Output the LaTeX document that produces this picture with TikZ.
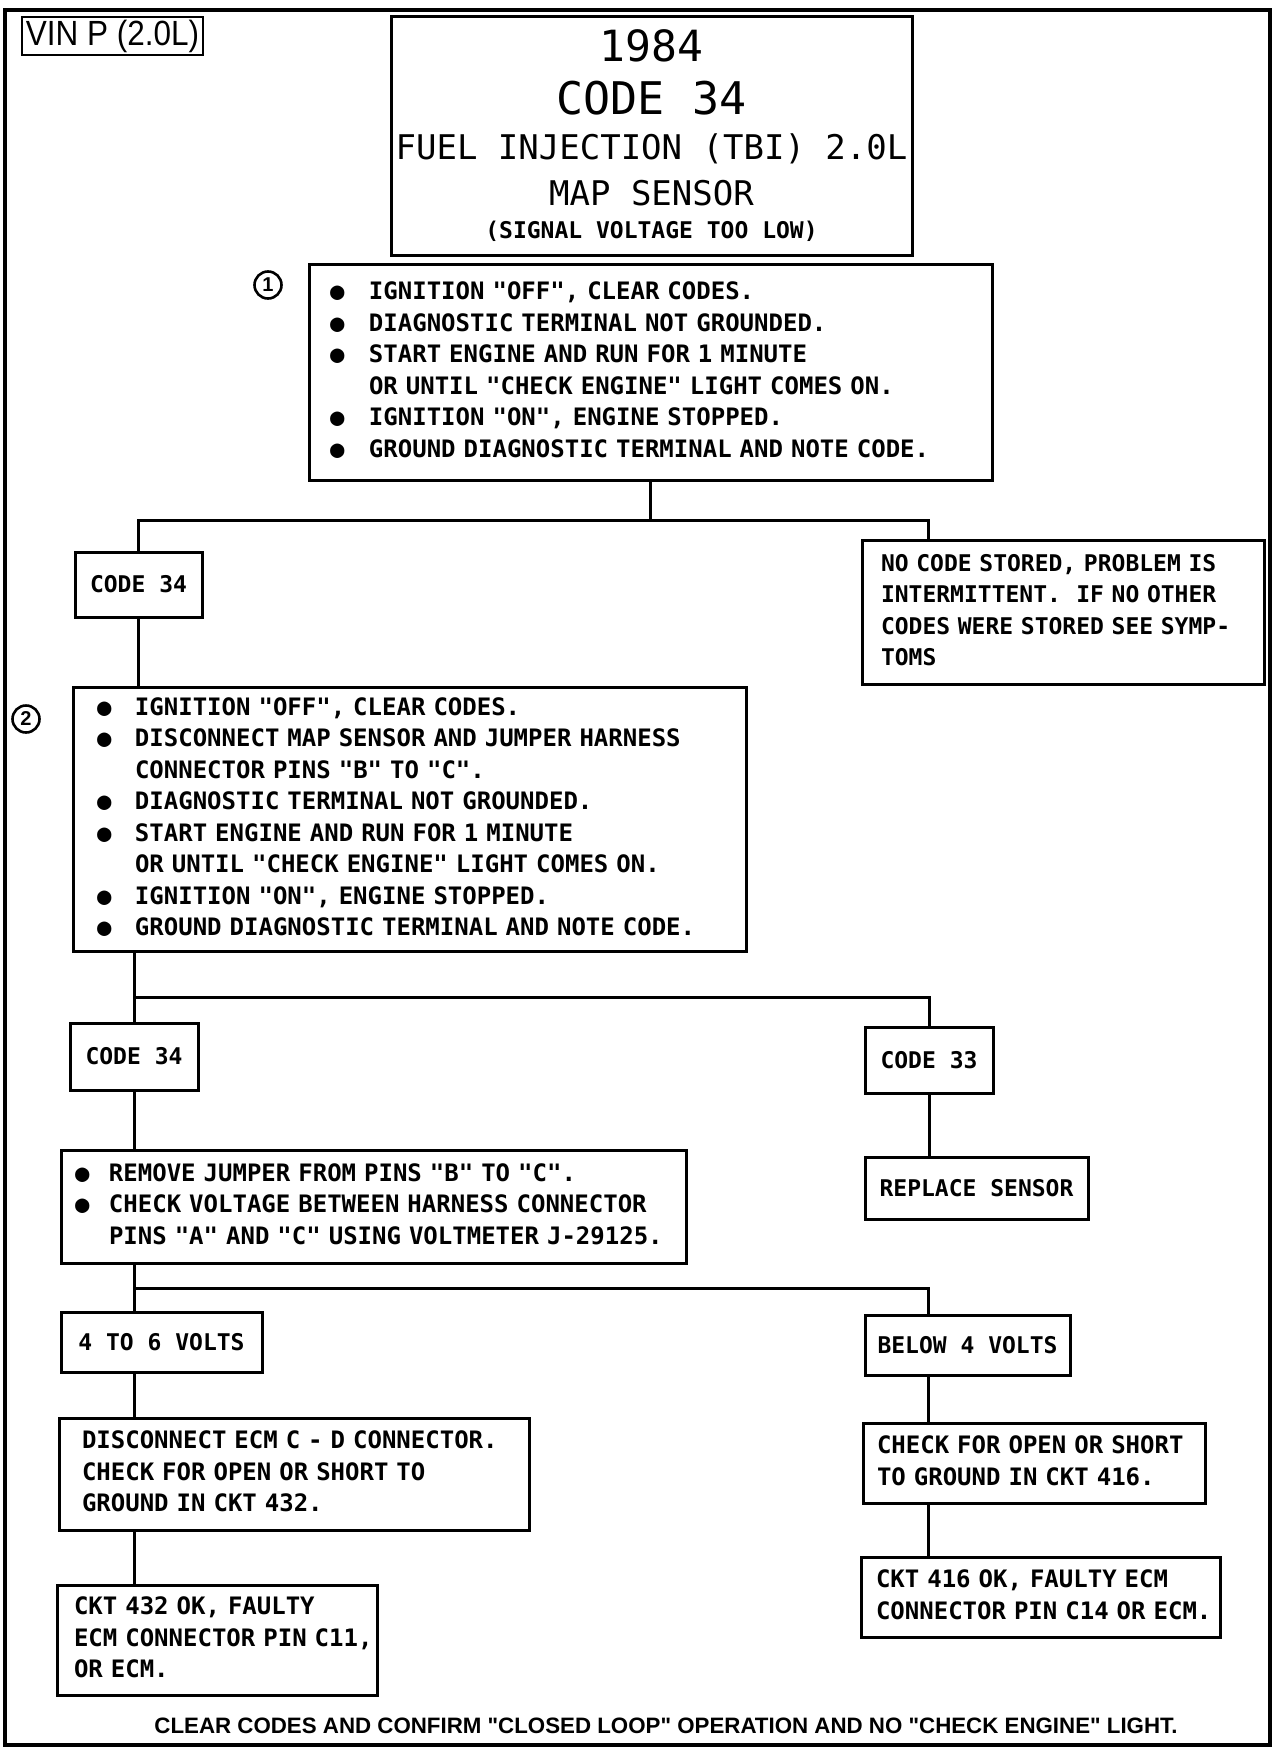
\documentclass[tikz,border=0pt]{standalone}
\usepackage{fontspec}
\setmainfont{Liberation Sans}[Ligatures=TeXOff]
\newfontfamily\plotfont{DejaVu Sans Mono}
\newfontfamily\vinfont[FakeStretch=0.9]{Liberation Sans}

\newcommand{\blt}[1]{\makebox[#1][l]{●}}

\tikzset{
	box/.style={draw, line width=3pt, inner sep=0pt},
	txtbox/.style={box, font=\plotfont\bfseries\fontsize{23}{31.5}\selectfont},
	note/.style={box, text width=#1, align=left, font=\plotfont\bfseries\fontsize{24}{31.5}\selectfont},
	wire/.style={line width=3pt},
	num/.style={circle, draw, line width=2.6pt, minimum size=27pt, inner sep=0pt, font=\bfseries\fontsize{20}{20}\selectfont},
}

\begin{document}
\begin{tikzpicture}[x=1pt, y=-1pt]
		\useasboundingbox (0, 0) rectangle (1280, 1748);
		\draw[line width=4.5pt] (5, 10) rectangle (1270, 1745);
		\node[draw, line width=1.5pt, minimum width=181pt, minimum height=38pt, inner sep=0pt, font=\vinfont\fontsize{35}{35}\selectfont] (vin) at (112.5, 36) {VIN P (2.0L)};

		\node[box, minimum width=521pt, minimum height=239pt] (title) at (651.5, 135.5) {};
		\node[anchor=base, font=\plotfont\fontsize{43}{43}\selectfont] (year) at (651.5, 61) {1984};
		\node[anchor=base, font=\plotfont\fontsize{45}{45}\selectfont] (code) at (651.5, 114) {CODE 34};
		\node[anchor=base, font=\plotfont\fontsize{34}{34}\selectfont] (sys) at (651.5, 159) {FUEL INJECTION (TBI) 2.0L};
		\node[anchor=base, font=\plotfont\fontsize{34}{34}\selectfont] (sensor) at (651.5, 205) {MAP SENSOR};
		\node[anchor=base, font=\plotfont\bfseries\fontsize{23}{23}\selectfont] (fault) at (651.5, 238) {(SIGNAL VOLTAGE TOO LOW)};

		\node[num] (n1) at (268, 285) {1};
		\node[note=641pt, inner xsep=21pt, minimum height=216pt] (step1) at (650.5, 372) {%
			\begin{tabular}{@{}l@{}}
				\blt{39pt}IGNITION "OFF", CLEAR CODES.\\
				\blt{39pt}DIAGNOSTIC TERMINAL NOT GROUNDED.\\
				\blt{39pt}START ENGINE AND RUN FOR 1 MINUTE\\
				\hspace*{39pt}OR UNTIL "CHECK ENGINE" LIGHT COMES ON.\\
				\blt{39pt}IGNITION "ON", ENGINE STOPPED.\\
				\blt{39pt}GROUND DIAGNOSTIC TERMINAL AND NOTE CODE.
			\end{tabular}};

		\node[txtbox, minimum width=127pt, minimum height=65pt] (code1) at (138.5, 584.5) {CODE 34};
		\node[note=364pt, inner xsep=19pt, minimum height=144pt, font=\plotfont\bfseries\fontsize{23}{31.5}\selectfont] (nocode) at (1063, 612) {%
			\begin{tabular}{@{}l@{}}
				NO CODE STORED, PROBLEM IS\\
				INTERMITTENT.\ \ IF NO OTHER\\
				CODES WERE STORED SEE SYMP-\\
				TOMS
			\end{tabular}};

		\node[num] (n2) at (26, 719) {2};
		\node[note=625pt, inner xsep=24pt, minimum height=264pt] (step2) at (409.5, 819) {%
			\begin{tabular}{@{}l@{}}
				\blt{38pt}IGNITION "OFF", CLEAR CODES.\\
				\blt{38pt}DISCONNECT MAP SENSOR AND JUMPER HARNESS\\
				\hspace*{38pt}CONNECTOR PINS "B" TO "C".\\
				\blt{38pt}DIAGNOSTIC TERMINAL NOT GROUNDED.\\
				\blt{38pt}START ENGINE AND RUN FOR 1 MINUTE\\
				\hspace*{38pt}OR UNTIL "CHECK ENGINE" LIGHT COMES ON.\\
				\blt{38pt}IGNITION "ON", ENGINE STOPPED.\\
				\blt{38pt}GROUND DIAGNOSTIC TERMINAL AND NOTE CODE.
			\end{tabular}};

		\node[txtbox, minimum width=128pt, minimum height=67pt] (code2) at (134, 1056.5) {CODE 34};
		\node[txtbox, minimum width=128pt, minimum height=66pt] (code3) at (929, 1060) {CODE 33};
		\node[txtbox, minimum width=223pt, minimum height=62pt] (replace) at (976.5, 1188) {REPLACE SENSOR};
		\node[note=597pt, inner xsep=14pt, minimum height=113pt] (step3) at (373.5, 1206.5) {%
			\begin{tabular}{@{}l@{}}
				\blt{34pt}REMOVE JUMPER FROM PINS "B" TO "C".\\
				\blt{34pt}CHECK VOLTAGE BETWEEN HARNESS CONNECTOR\\
				\hspace*{34pt}PINS "A" AND "C" USING VOLTMETER J-29125.
			\end{tabular}};

		\node[txtbox, minimum width=201pt, minimum height=60pt] (volts) at (161.5, 1342) {4 TO 6 VOLTS};
		\node[txtbox, minimum width=205pt, minimum height=60pt] (below) at (967.5, 1345) {BELOW 4 VOLTS};
		\node[note=424pt, inner xsep=23pt, minimum height=112pt] (disc) at (294, 1474) {%
			\begin{tabular}{@{}l@{}}
				DISCONNECT ECM C - D CONNECTOR.\\
				CHECK FOR OPEN OR SHORT TO\\
				GROUND IN CKT 432.
			\end{tabular}};
		\node[note=314pt, inner xsep=14pt, minimum height=80pt] (chk) at (1034, 1463) {%
			\begin{tabular}{@{}l@{}}
				CHECK FOR OPEN OR SHORT\\
				TO GROUND IN CKT 416.
			\end{tabular}};
		\node[note=286pt, inner xsep=17pt, minimum height=110pt] (ckt432) at (217, 1640) {%
			\begin{tabular}{@{}l@{}}
				CKT 432 OK, FAULTY\\
				ECM CONNECTOR PIN C11,\\
				OR ECM.
			\end{tabular}};
		\node[note=329pt, inner xsep=15pt, minimum height=80pt] (ckt416) at (1040.5, 1597) {%
			\begin{tabular}{@{}l@{}}
				CKT 416 OK, FAULTY ECM\\
				CONNECTOR PIN C14 OR ECM.
			\end{tabular}};

		\node[anchor=base, font=\bfseries\fontsize{22.3}{22.3}\selectfont] (foot) at (666, 1733) {CLEAR CODES AND CONFIRM "CLOSED LOOP" OPERATION AND NO "CHECK ENGINE" LIGHT.};

		\coordinate (R) at (928, 0);
		\coordinate (j1) at (650.5, 520);
		\coordinate (j2) at (134, 997);
		\coordinate (j3) at (134, 1288);
		\draw[wire] (step1.south) -- (j1);
		\draw[wire] (code1.north) |- (j1) -| (nocode.north -| R);
		\draw[wire] (code1.south) -- (code1.south |- step2.north);
		\draw[wire] (step2.south -| j2) -- (code2.north);
		\draw[wire] (j2) -| (code3.north);
		\draw[wire] (code3.south) -- (code3.south |- replace.north);
		\draw[wire] (code2.south) -- (code2.south |- step3.north);
		\draw[wire] (step3.south -| j3) -- (volts.north -| j3);
		\draw[wire] (j3) -| (below.north -| R);
		\draw[wire] (volts.south -| j3) -- (disc.north -| j3);
		\draw[wire] (disc.south -| j3) -- (ckt432.north -| j3);
		\draw[wire] (below.south -| R) -- (chk.north -| R);
		\draw[wire] (chk.south -| R) -- (ckt416.north -| R);
	\end{tikzpicture}
\end{document}
